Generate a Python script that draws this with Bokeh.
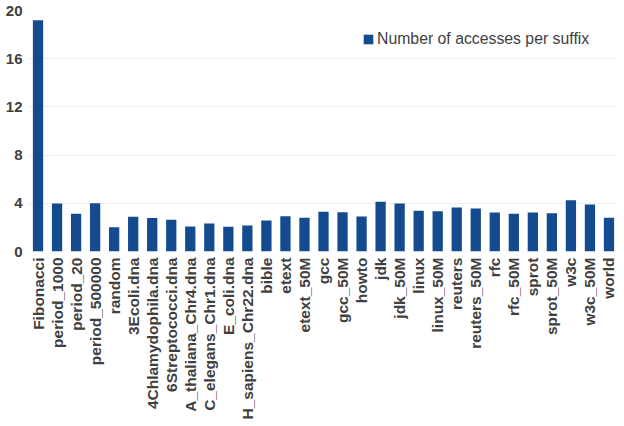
from bokeh.plotting import figure
from bokeh.models import FactorRange, Range1d, FixedTicker, ColumnDataSource, Legend, LegendItem
from bokeh.embed import file_html
from bokeh.resources import INLINE
import math

suffixes = ["Fibonacci", "period_1000", "period_20", "period_500000", "random",
            "3Ecoli.dna", "4Chlamydophila.dna", "6Streptococci.dna", "A_thaliana_Chr4.dna",
            "C_elegans_Chr1.dna", "E_coli.dna", "H_sapiens_Chr22.dna", "bible", "etext",
            "etext_50M", "gcc", "gcc_50M", "howto", "jdk", "jdk_50M", "linux", "linux_50M",
            "reuters", "reuters_50M", "rfc", "rfc_50M", "sprot", "sprot_50M", "w3c",
            "w3c_50M", "world"]
accesses = [19.2, 3.98, 3.13, 4.0, 2.02,
            2.88, 2.77, 2.63, 2.08,
            2.32, 2.05, 2.16, 2.57, 2.93,
            2.8, 3.29, 3.26, 2.9, 4.12, 3.98, 3.38, 3.35,
            3.65, 3.57, 3.24, 3.13, 3.24, 3.18, 4.26,
            3.9, 2.8]
y_ticks = [0, 4, 8, 12, 16, 20]

src = ColumnDataSource(dict(x=suffixes, top=accesses))

p = figure(width=618, height=422, output_backend="svg", toolbar_location=None,
           x_range=FactorRange(factors=suffixes),
           y_range=Range1d(0, 20),
           min_border_left=28, min_border_right=0, min_border_top=10, min_border_bottom=0)
p.outline_line_color = None
p.background_fill_color = "white"
p.border_fill_color = "white"

r = p.vbar(x="x", top="top", width=0.54, source=src, fill_color="#134b8e", line_color=None)

p.yaxis.ticker = FixedTicker(ticks=y_ticks)
p.yaxis.axis_line_color = None
p.yaxis.major_tick_line_color = None
p.yaxis.major_tick_out = 0
p.yaxis.major_tick_in = 0
p.yaxis.minor_tick_line_color = None
p.yaxis.minor_tick_out = 0
p.yaxis.major_label_standoff = 6
p.yaxis.major_label_text_font = "Liberation Sans"
p.yaxis.major_label_text_font_style = "bold"
p.yaxis.major_label_text_font_size = "15px"
p.yaxis.major_label_text_color = "#404040"

p.xaxis.axis_line_color = None
p.xaxis.major_tick_line_color = None
p.xaxis.major_tick_out = 0
p.xaxis.major_tick_in = 0
p.xaxis.minor_tick_line_color = None
p.xaxis.minor_tick_out = 0
p.xaxis.major_label_orientation = math.pi / 2
p.xaxis.major_label_standoff = 6
p.xaxis.major_label_text_font = "Liberation Sans"
p.xaxis.major_label_text_font_style = "bold"
p.xaxis.major_label_text_font_size = "15.5px"
p.xaxis.major_label_text_color = "#404040"

p.xgrid.grid_line_color = None
p.ygrid.ticker = FixedTicker(ticks=y_ticks[1:])
p.ygrid.grid_line_color = "#efefef"
p.ygrid.grid_line_width = 1

legend = Legend(items=[LegendItem(label="Number of accesses per suffix", renderers=[r])],
                location="top_right", border_line_color=None, background_fill_alpha=0,
                padding=0, margin=20, glyph_width=12, glyph_height=12, label_height=12,
                label_width=221, label_standoff=3, label_text_font="Liberation Sans",
                label_text_font_size="15.8px", label_text_color="#404040",
                label_text_baseline="middle")
p.add_layout(legend)

open("out.html", "w").write(file_html(p, INLINE))
